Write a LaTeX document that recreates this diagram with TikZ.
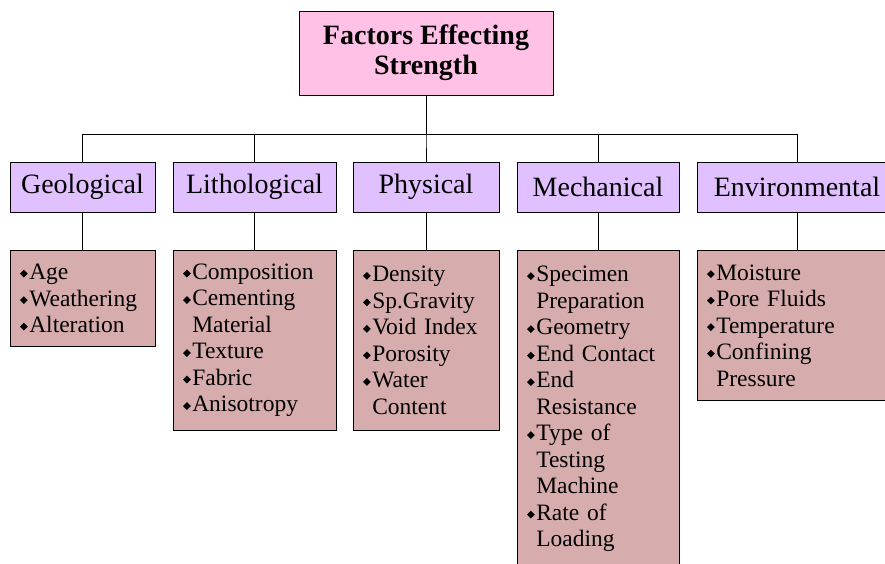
\documentclass[tikz,border=0pt]{standalone}
\usepackage{fontspec}
\setmainfont{Liberation Serif}
\newcommand\bul{\raisebox{2bp}{\rotatebox{45}{\rule{5.5bp}{5.5bp}}}\hspace{1.5bp}}
\newcommand\ind{\phantom{\bul}}
\definecolor{toppink}{RGB}{255,194,230}
\definecolor{catlilac}{RGB}{224,192,255}
\definecolor{detrose}{RGB}{214,172,172}
\begin{document}
\begin{tikzpicture}[x=1bp,y=-1bp,line width=0.8bp,
top/.style={draw,fill=toppink,minimum width=254bp,minimum height=84bp,align=center,font=\bfseries\fontsize{28bp}{30bp}\selectfont},
cat/.style={draw,fill=catlilac,minimum height=50bp,font=\fontsize{28bp}{30bp}\selectfont},
det/.style={draw,fill=detrose,anchor=north,align=left,inner xsep=10bp,inner ysep=11bp,font=\fontsize{23.5bp}{26.5bp}\selectfont}]
\useasboundingbox (0,0) rectangle (885,564);
\node[top] (t) at (426,53) {Factors Effecting\\Strength};
\node[cat,minimum width=145bp] (geo) at (82.5,187) {Geological};
\node[cat,minimum width=163bp] (lit) at (254.5,187) {Lithological};
\node[cat,minimum width=146bp] (phy) at (426,187) {Physical};
\node[cat,minimum width=162bp] (mec) at (598,187) {Mechanical};
\node[cat,minimum width=200bp] (env) at (797,187) {Environmental};
\node[det,text width=125bp,minimum height=96bp] (geo2) at (82.5,250) {\bul Age\\\bul Weathering\\\bul Alteration};
\node[det,text width=143bp,minimum height=180bp] (lit2) at (254.5,250) {\bul Composition\\\bul Cementing\\\ind Material\\\bul Texture\\\bul Fabric\\\bul Anisotropy};
\node[det,text width=126bp,minimum height=180bp] (phy2) at (426,250) {\bul Density\\\bul Sp.Gravity\\\bul Void Index\\\bul Porosity\\\bul Water\\\ind Content};
\node[det,text width=142bp,inner ysep=16bp] (mec2) at (598,250) {\bul Specimen\\\ind Preparation\\\bul Geometry\\\bul End Contact\\\bul End\\\ind Resistance\\\bul Type of\\\ind Testing\\\ind Machine\\\bul Rate of\\\ind Loading};
\node[det,text width=180bp,minimum height=150bp] (env2) at (797,250) {\bul Moisture\\\bul Pore Fluids\\\bul Temperature\\\bul Confining\\\ind Pressure};
\foreach \n in {geo,lit,phy,mec,env}{\draw (t.south) -- ++(0,39) -| (\n.north);\draw (\n.south) -- (\n2.north);}
\end{tikzpicture}
\end{document}
